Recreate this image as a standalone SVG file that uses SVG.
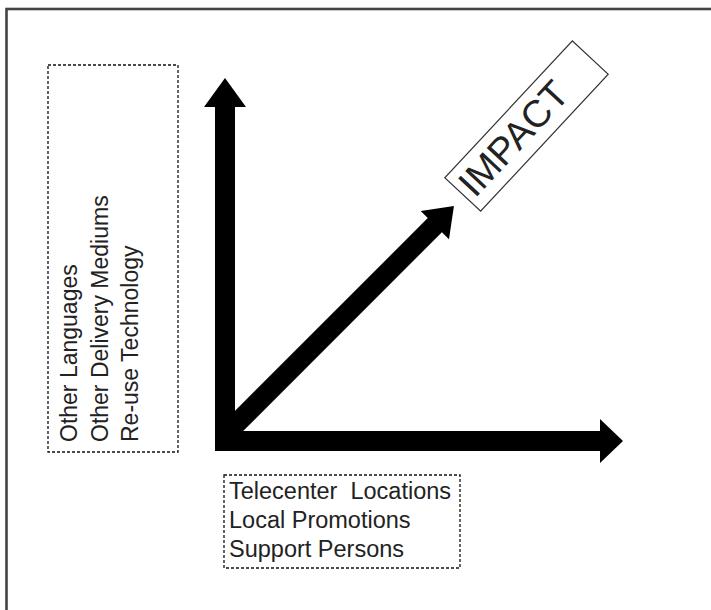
<svg xmlns="http://www.w3.org/2000/svg" width="711" height="610" viewBox="0 0 711 610">
<style>
.lbl{font-family:"Liberation Sans",Arial,sans-serif;fill:#222;}
.dot{fill:none;stroke:#111;stroke-width:1.3;stroke-dasharray:3 2;}
.arrow{fill:#000;stroke:none;}
</style>
<rect width="711" height="610" fill="#fff"/>
<rect x="6.5" y="9" width="730" height="640" fill="none" stroke="#444" stroke-width="2.6"/>
<g id="connectors">
<polygon class="arrow" points="215,451 215,107 204,107 225,78 246,107 235,107 235,451"/>
<polygon class="arrow" points="215,431 600,431 600,419 623,441 600,463 600,451 215,451"/>
<polygon class="arrow" transform="translate(222,438) rotate(-45)" points="0,-10 301,-10 301,-20 328,0 301,20 301,10 0,10"/>
</g>
<g id="left-box">
<rect class="dot" x="48" y="65" width="130" height="387"/>
<g transform="translate(0,442) rotate(-90)">
<text class="lbl" font-size="23" x="0" y="77">Other Languages</text>
<text class="lbl" font-size="23" x="0" y="107.5">Other Delivery Mediums</text>
<text class="lbl" font-size="23" x="0" y="138">Re-use Technology</text>
</g>
</g>
<g id="bottom-box">
<rect class="dot" x="224" y="475" width="236" height="93"/>
<text class="lbl" font-size="23.5" x="229" y="499" xml:space="preserve">Telecenter  Locations</text>
<text class="lbl" font-size="23.5" x="229" y="528">Local Promotions</text>
<text class="lbl" font-size="23.5" x="229" y="557">Support Persons</text>
</g>
<g id="impact" transform="translate(526.5,126) rotate(-47)">
<rect x="-93.5" y="-24.5" width="187" height="49" fill="#fff" stroke="#333" stroke-width="1.2"/>
<text class="lbl" font-size="38" x="-18" y="12" text-anchor="middle" fill="#111">IMPACT</text>
</g>
</svg>
